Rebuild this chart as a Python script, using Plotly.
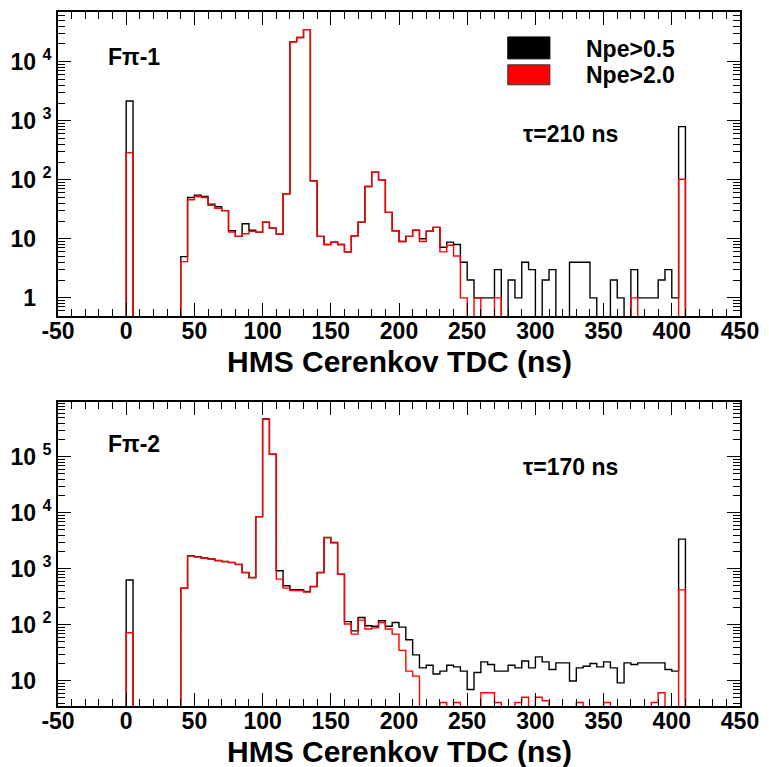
import numpy as np
import plotly.graph_objects as go

# ---------------- data (counts per 5 ns bin, bins start at -50 ns) ----------------
bin_low = -50.0
bin_width = 5.0

# F-pi-1 panel, Npe > 0.5 (black) and Npe > 2.0 (red)
fpi1_npe05 = [
    0, 0, 0, 0, 0, 0, 0, 0, 0, 0,
    2160, 0, 0, 0, 0, 0, 0, 0, 5, 50,
    55, 52, 38.7, 35, 30, 13.7, 11, 18, 14, 13,
    19.2, 15.2, 12, 58, 21700, 25700, 35000, 96, 11, 8,
    8.8, 8, 6, 11.3, 19.2, 77, 134, 100, 28, 13.7,
    9, 11, 14, 10, 13.4, 15.6, 7.2, 8.8, 8, 4,
    2, 1, 1, 1, 3, 0, 2, 1, 4, 3,
    0, 2, 3, 0, 0, 4, 4, 4, 1, 0,
    0, 2, 1, 0, 3, 1, 1, 1, 2, 3,
    1, 795, 0, 0, 0, 0, 0, 0, 0, 0,
]
fpi1_npe20 = [
    0, 0, 0, 0, 0, 0, 0, 0, 0, 0,
    289, 0, 0, 0, 0, 0, 0, 0, 4.1, 46,
    52, 50, 36.8, 33, 30, 13, 11, 12.2, 13.4, 13,
    19.2, 15.2, 12, 58, 21700, 25700, 35000, 96, 11, 8,
    8.8, 8, 6, 11.3, 19.2, 77, 134, 100, 28, 13.7,
    9, 11, 14, 9, 13.4, 15.6, 6, 7.8, 5.1, 1,
    0, 1, 0, 0, 1, 0, 0, 0, 0, 0,
    0, 0, 0, 0, 0, 0, 0, 0, 0, 0,
    0, 0, 0, 0, 1, 0, 0, 0, 0, 0,
    0, 102, 0, 0, 0, 0, 0, 0, 0, 0,
]
# F-pi-2 panel
fpi2_npe05 = [
    0, 0, 0, 0, 0, 0, 0, 0, 0, 0,
    632, 0, 0, 0, 0, 0, 0, 0, 449, 1710,
    1640, 1556, 1493, 1410, 1352, 1300, 1197, 863, 703, 8530,
    471000, 111700, 920, 497, 422, 422, 393, 483, 860, 3620,
    2950, 803, 114, 78, 135, 96, 94, 118, 94, 110,
    91, 54, 29, 17, 19, 13.2, 14.9, 19, 17.7, 14.9,
    7, 14.1, 21.8, 19.5, 14.9, 14.9, 19, 17, 22.6, 17,
    26.7, 21.8, 15.9, 20.9, 20.9, 9.9, 17, 18.2, 20.4, 17.7,
    21.8, 17, 9.2, 20.9, 19.5, 20.9, 20.9, 20.9, 20.9, 15.9,
    14.9, 3390, 0, 0, 0, 0, 0, 0, 0, 0,
]
fpi2_npe20 = [
    0, 0, 0, 0, 0, 0, 0, 0, 0, 0,
    72, 0, 0, 0, 0, 0, 0, 0, 449, 1700,
    1630, 1540, 1480, 1400, 1340, 1290, 1190, 850, 690, 8500,
    470000, 111000, 655, 452, 410, 410, 385, 480, 855, 3600,
    2900, 800, 103, 68, 121, 84, 88, 110, 84, 68,
    35, 14.9, 12.1, 0, 0, 0, 4.1, 0, 4.1, 0,
    0, 0, 6.1, 6.1, 4.1, 0, 0, 4.1, 5.1, 0,
    5.1, 4.4, 0, 0, 0, 0, 4.1, 0, 0, 0,
    4.1, 0, 0, 0, 0, 0, 0, 4.1, 6.1, 0,
    0, 420, 0, 0, 0, 0, 0, 0, 0, 0,
]

panel_labels = ["F\u03c0-1", "F\u03c0-2"]
tau_labels = ["\u03c4=210 ns", "\u03c4=170 ns"]
legend_labels = ["Npe&gt;0.5", "Npe&gt;2.0"]
x_title = "HMS Cerenkov TDC (ns)"
x_ticks = [-50, 0, 50, 100, 150, 200, 250, 300, 350, 400, 450]

# ---------------- helpers ----------------
FONT = "Liberation Sans, Arial, Helvetica, sans-serif"
W, H = 769, 767
ML, MR, MT, MB = 52, 21, 10, 61
PW, PH = W - ML - MR, H - MT - MB


def px_x(px):
    return (px - ML) / PW


def px_y(py):
    return (H - MB - py) / PH


def step_xy(counts):
    c = np.asarray(counts, dtype=float)
    edges = bin_low + bin_width * np.arange(len(c) + 1)
    y = np.where(c > 0, c, 1e-3)
    return edges, np.append(y, y[-1])


def sup_label(exp):
    if exp == 0:
        return "1<span style='color:white'> <sup>0</sup></span>"
    if exp == 1:
        return "10<span style='color:white'> <sup>0</sup></span>"
    return "10 <sup>%d</sup>" % exp


def minor_vals(lo, hi):
    vals = []
    for d in range(lo, hi + 1):
        for k in range(2, 10):
            vals.append(k * 10.0 ** d)
    return vals


fig = go.Figure()
series = [
    (fpi1_npe05, "black", "x", "y"),
    (fpi1_npe20, "#ff0000", "x", "y"),
    (fpi2_npe05, "black", "x2", "y2"),
    (fpi2_npe20, "#ff0000", "x2", "y2"),
]
for counts, col, xa, ya in series:
    xs, ys = step_xy(counts)
    fig.add_trace(go.Scatter(x=xs, y=ys, mode="lines", line=dict(color=col, width=1.4, shape="hv"),
                             xaxis=xa, yaxis=ya, showlegend=False, hoverinfo="skip"))

tickfont = dict(family=FONT, size=23, color="black", weight="bold")
common_x = dict(range=[-50, 450], tickmode="array", tickvals=x_ticks,
                ticktext=[str(v) for v in x_ticks], ticks="inside", ticklen=13, tickwidth=1,
                tickcolor="black", showline=True, linecolor="black", linewidth=2, mirror="ticks",
                showgrid=False, zeroline=False, tickfont=tickfont, ticklabelstandoff=-7,
                minor=dict(tickmode="linear", tick0=-50, dtick=10, ticks="inside", ticklen=7,
                           tickwidth=1, tickcolor="black", showgrid=False))
common_y = dict(type="log", ticks="inside", ticklen=13, tickwidth=1, tickcolor="black",
                showline=True, linecolor="black", linewidth=2, mirror="ticks", showgrid=False,
                zeroline=False, tickfont=tickfont, tickmode="array")

top_dom = [px_y(315), 1.0]
bot_dom = [0.0, px_y(401)]

fig.update_layout(
    width=W, height=H, margin=dict(l=ML, r=MR, t=MT, b=MB),
    paper_bgcolor="white", plot_bgcolor="white",
    font=dict(family=FONT, color="black"),
    xaxis=dict(common_x, domain=[0, 1], anchor="y"),
    yaxis=dict(common_y, domain=top_dom, anchor="x", range=[-0.31, 4.843],
               tickvals=[1, 10, 100, 1000, 10000], ticktext=[sup_label(e) for e in range(5)],
               minor=dict(tickmode="array", tickvals=minor_vals(-1, 4), ticks="inside", ticklen=7,
                          tickwidth=1, tickcolor="black", showgrid=False)),
    xaxis2=dict(common_x, domain=[0, 1], anchor="y2"),
    yaxis2=dict(common_y, domain=bot_dom, anchor="x2", range=[0.55, 5.98],
                tickvals=[10, 100, 1000, 10000, 100000], ticktext=[sup_label(e) for e in range(1, 6)],
                minor=dict(tickmode="array", tickvals=minor_vals(0, 5), ticks="inside", ticklen=7,
                           tickwidth=1, tickcolor="black", showgrid=False)),
)

annots = []
bold = dict(family=FONT, size=23, color="black", weight="bold")
for i, (lab, tau, ly, ty) in enumerate(zip(panel_labels, tau_labels, [55, 443], [132, 466])):
    annots.append(dict(text=lab, x=px_x(101), y=px_y(ly), xref="paper", yref="paper",
                       xanchor="left", yanchor="middle", showarrow=False, font=bold))
    annots.append(dict(text=tau, x=px_x(524), y=px_y(ty), xref="paper", yref="paper",
                       xanchor="left", yanchor="middle", showarrow=False, font=bold))
for ty in [361, 752]:
    annots.append(dict(text=x_title, x=px_x(400), y=px_y(ty), xref="paper", yref="paper",
                       xanchor="center", yanchor="middle", showarrow=False,
                       font=dict(family=FONT, size=30, color="black", weight="bold")))
for lab, cy in zip(legend_labels, [47, 73]):
    annots.append(dict(text=lab, x=px_x(589), y=px_y(cy), xref="paper", yref="paper",
                       xanchor="left", yanchor="middle", showarrow=False, font=bold))
fig.update_layout(annotations=annots)

shapes = [
    dict(type="rect", xref="paper", yref="paper", x0=px_x(511), x1=px_x(554), y0=px_y(57), y1=px_y(35),
         fillcolor="black", line=dict(color="black", width=1)),
    dict(type="rect", xref="paper", yref="paper", x0=px_x(511), x1=px_x(554), y0=px_y(83), y1=px_y(63),
         fillcolor="#ff0000", line=dict(color="#333333", width=1)),
]
fig.update_layout(shapes=shapes)

fig.write_html("out.html")
